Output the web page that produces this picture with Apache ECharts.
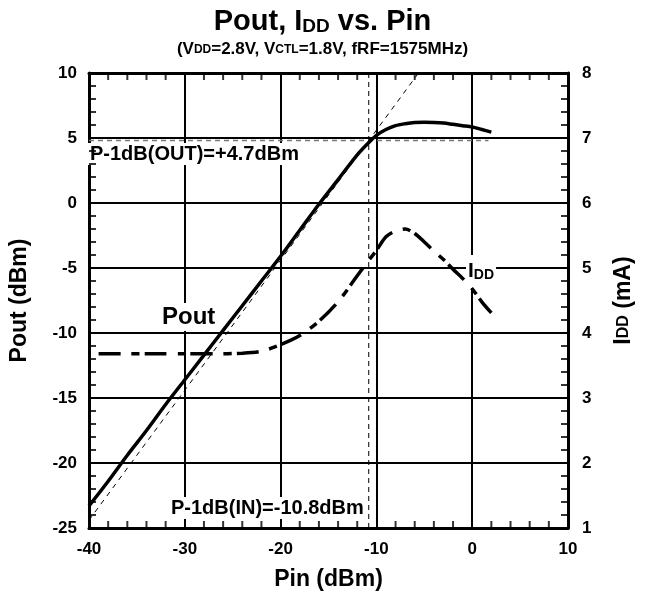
<!DOCTYPE html>
<html>
<head>
<meta charset="utf-8">
<script src="https://cdn.jsdelivr.net/npm/echarts@6/dist/echarts.min.js"></script>
<style>html,body{margin:0;padding:0;background:#fff}#c{width:645px;height:597px}</style>
</head>
<body>
<div id="c"></div>
<script>
// ---- data ----
const pinPout = [-40,-38,-36,-34,-32,-30,-28,-26,-24,-22,-20,-18,-16,-14,-12,-11,-10,-9,-8,-7,-6,-5,-4,-3,-2,-1,0,1,2];
const pout    = [-23.3,-21.4,-19.4,-17.5,-15.5,-13.6,-11.7,-9.8,-7.9,-6.0,-4.1,-2.1,-0.1,1.8,3.7,4.5,5.2,5.65,5.95,6.1,6.2,6.22,6.2,6.15,6.05,5.95,5.85,5.65,5.45];
const pinIdd  = [-39,-36,-33,-30,-27,-24,-22,-20,-18,-16,-14,-12,-11,-10,-9,-8,-7,-6,-5,-4,-3,-2,-1,0,1,2];
const idd     = [3.68,3.68,3.68,3.68,3.68,3.69,3.72,3.82,3.96,4.18,4.48,4.88,5.08,5.27,5.48,5.57,5.60,5.53,5.40,5.26,5.13,4.98,4.84,4.68,4.48,4.31];
const refPin  = [-40,-5.6];
const refPout = [-24.4,10];
const p1dbOutLevel = 4.8;
const p1dbOutPin = [-40,1.7];
const p1dbInPin = -10.8;
const xTicks = [-40,-30,-20,-10,0,10];
const yLeftTicks = [-25,-20,-15,-10,-5,0,5,10];
const yRightTicks = [1,2,3,4,5,6,7,8];
const xMinorTicks = [-38,-36,-34,-32,-28,-26,-24,-22,-18,-16,-14,-12,-8,-6,-4,-2,2,4,6,8];
const yLeftMinorTicks = [-24,-23,-22,-21,-19,-18,-17,-16,-14,-13,-12,-11,-9,-8,-7,-6,-4,-3,-2,-1,1,2,3,4,6,7,8,9];
const yRightMinorTicks = [1.2,1.4,1.6,1.8,2.2,2.4,2.6,2.8,3.2,3.4,3.6,3.8,4.2,4.4,4.6,4.8,5.2,5.4,5.6,5.8,6.2,6.4,6.6,6.8,7.2,7.4,7.6,7.8];

const F = '"Liberation Sans", Arial, sans-serif';
const chart = echarts.init(document.getElementById('c'), null, {renderer:'canvas'});
const zip = (a,b)=>a.map((v,i)=>[v,b[i]]);
const X_MIN=-40, X_MAX=10, YL_MIN=-25, YL_MAX=10, YR_MIN=1, YR_MAX=8;
function tickSeries(data, yIdx, size, offset){
  return {type:'scatter',data:data,xAxisIndex:0,yAxisIndex:yIdx,symbol:'rect',symbolSize:size,symbolOffset:offset,
    clip:false,silent:true,z:5,itemStyle:{color:'#000'}};
}

const option = {
  backgroundColor:'#fff',
  animation:false,
  title:{
    left:'center', top:2,
    text:'{a|Pout, I}{b|DD}{a| vs. Pin}',
    subtext:'{a|(V}{b|DD}{a|=2.8V, V}{b|CTL}{a|=1.8V, fRF=1575MHz)}',
    itemGap:5,
    textStyle:{rich:{
      a:{fontFamily:F,fontWeight:'bold',fontSize:29,color:'#000'},
      b:{fontFamily:F,fontWeight:'bold',fontSize:19,color:'#000',verticalAlign:'bottom'}
    }},
    subtextStyle:{rich:{
      a:{fontFamily:F,fontWeight:'bold',fontSize:17,color:'#000'},
      b:{fontFamily:F,fontWeight:'bold',fontSize:12,color:'#000'}
    }}
  },
  grid:{left:88,top:73,width:480,height:455,containLabel:false},
  xAxis:[{
    type:'value',min:X_MIN,max:X_MAX,interval:10,position:'bottom',
    name:'Pin (dBm)',nameLocation:'middle',nameGap:40,
    nameTextStyle:{fontFamily:F,fontWeight:'bold',fontSize:23,color:'#000'},
    axisLine:{onZero:false,lineStyle:{color:'#000',width:3}},
    axisTick:{show:false},
    splitLine:{show:true,lineStyle:{color:'#000',width:2}},
    axisLabel:{fontFamily:F,fontWeight:'bold',fontSize:17,color:'#000',margin:13,
      formatter:v=>xTicks.includes(v)?String(v):''}
  },{
    type:'value',min:X_MIN,max:X_MAX,interval:10,position:'top',
    axisLine:{onZero:false,lineStyle:{color:'#000',width:3}},
    axisTick:{show:false},
    splitLine:{show:false},axisLabel:{show:false}
  }],
  yAxis:[{
    type:'value',min:YL_MIN,max:YL_MAX,interval:5,position:'left',
    name:'Pout (dBm)',nameLocation:'middle',nameGap:58,nameRotate:90,
    nameTextStyle:{fontFamily:F,fontWeight:'bold',fontSize:23,color:'#000'},
    axisLine:{show:true,onZero:false,lineStyle:{color:'#000',width:3}},
    axisTick:{show:false},
    splitLine:{show:true,lineStyle:{color:'#000',width:2}},
    axisLabel:{fontFamily:F,fontWeight:'bold',fontSize:17,color:'#000',margin:12,
      formatter:v=>yLeftTicks.includes(v)?String(v):''}
  },{
    type:'value',min:YR_MIN,max:YR_MAX,interval:1,position:'right',
    name:'{a|I}{b|DD}{a| (mA)}',nameLocation:'middle',nameGap:44,nameRotate:90,
    nameTextStyle:{rich:{
      a:{fontFamily:F,fontWeight:'bold',fontSize:23,color:'#000'},
      b:{fontFamily:F,fontWeight:'bold',fontSize:16,color:'#000'}
    }},
    axisLine:{show:true,onZero:false,lineStyle:{color:'#000',width:3}},
    axisTick:{show:false},
    splitLine:{show:false},
    axisLabel:{fontFamily:F,fontWeight:'bold',fontSize:17,color:'#000',margin:14,
      formatter:v=>yRightTicks.includes(v)?String(v):''}
  }],
  series:[
    {type:'line',name:'ref',data:zip(refPin,refPout),xAxisIndex:0,yAxisIndex:0,showSymbol:false,z:3,
      lineStyle:{color:'#000',width:1,type:[5,5]}},
    {type:'line',name:'p1dbOut',data:zip(p1dbOutPin,[p1dbOutLevel,p1dbOutLevel]),xAxisIndex:0,yAxisIndex:0,showSymbol:false,z:3,
      lineStyle:{color:'#777',width:1.5,type:[5,4]}},
    {type:'line',name:'p1dbIn',data:[[p1dbInPin,YL_MIN],[p1dbInPin,YL_MAX]],xAxisIndex:0,yAxisIndex:0,showSymbol:false,z:3,
      lineStyle:{color:'#000',width:1,type:[5,4]}},
    {type:'line',name:'Pout',data:zip(pinPout,pout),xAxisIndex:0,yAxisIndex:0,showSymbol:false,smooth:0.3,z:4,
      lineStyle:{color:'#000',width:3.5}},
    {type:'line',name:'IDD',data:zip(pinIdd,idd),xAxisIndex:0,yAxisIndex:1,showSymbol:false,smooth:0.3,z:4,
      lineStyle:{color:'#000',width:3.5,type:[22,11,8,5]}},
    // minor tick marks on the frame, placed through the axes
    tickSeries(xMinorTicks.map(v=>[v,YL_MIN]),0,[2,7],[0,-3.5]),
    tickSeries(xMinorTicks.map(v=>[v,YL_MAX]),0,[2,7],[0,3.5]),
    tickSeries(yLeftMinorTicks.map(v=>[X_MIN,v]),0,[7,2],[3.5,0]),
    tickSeries(yRightMinorTicks.map(v=>[X_MAX,v]),1,[7,2],[-3.5,0])
  ],
  graphic:[
    {type:'text',left:88,top:143,z:1,style:{text:'P-1dB(OUT)=+4.7dBm',font:'bold 20px '+F,fill:'#000',backgroundColor:'#fff',padding:[1,2]}},
    {type:'text',left:169,top:497,z:1,style:{text:'P-1dB(IN)=-10.8dBm',font:'bold 20px '+F,fill:'#000',backgroundColor:'#fff',padding:[1,2]}},
    {type:'text',left:160,top:303,z:1,style:{text:'Pout',font:'bold 24px '+F,fill:'#000',backgroundColor:'#fff',padding:[2,2]}},
    {type:'text',left:466,top:255,z:1,style:{
      text:'{a|I}{b|DD}',backgroundColor:'#fff',padding:[6,2],
      rich:{a:{font:'bold 21px '+F,fill:'#000'},b:{font:'bold 14px '+F,fill:'#000',verticalAlign:'bottom'}}}}
  ]
};
chart.setOption(option);
</script>
</body>
</html>
